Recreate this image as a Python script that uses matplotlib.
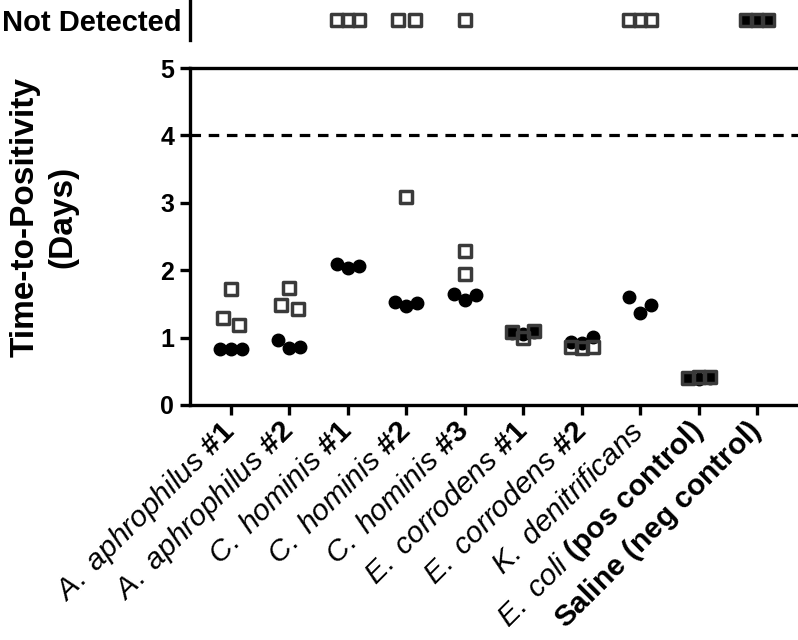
import numpy as np
import matplotlib.pyplot as plt
from matplotlib.markers import MarkerStyle

plt.rcParams['font.family'] = 'Liberation Sans'
plt.rcParams['mathtext.fontset'] = 'custom'
plt.rcParams['mathtext.rm'] = 'Liberation Sans'
plt.rcParams['mathtext.it'] = 'Liberation Sans:italic'
plt.rcParams['mathtext.bf'] = 'Liberation Sans:bold'

ND = np.nan  # not detected

categories = [
    r'$\mathit{A.\ aphrophilus}\ \mathbf{\#1}$',
    r'$\mathit{A.\ aphrophilus}\ \mathbf{\#2}$',
    r'$\mathit{C.\ hominis}\ \mathbf{\#1}$',
    r'$\mathit{C.\ hominis}\ \mathbf{\#2}$',
    r'$\mathit{C.\ hominis}\ \mathbf{\#3}$',
    r'$\mathit{E.\ corrodens}\ \mathbf{\#1}$',
    r'$\mathit{E.\ corrodens}\ \mathbf{\#2}$',
    r'$\mathit{K.\ denitrificans}$',
    r'$\mathit{E.\ coli}\ \mathbf{(pos\ control)}$',
    r'$\mathbf{Saline\ (neg\ control)}$',
]

# filled circles
circle_days = [
    [0.83, 0.83, 0.83],
    [0.96, 0.85, 0.86],
    [2.09, 2.04, 2.06],
    [1.53, 1.47, 1.52],
    [1.64, 1.56, 1.63],
    [1.07, 1.05, 1.09],
    [0.94, 0.92, 1.01],
    [1.60, 1.36, 1.48],
    [0.40, 0.39, 0.40],
    [ND, ND, ND],
]

# open squares
square_days = [
    [1.29, 1.72, 1.18],
    [1.49, 1.73, 1.42],
    [ND, ND, ND],
    [ND, 3.09, ND],
    [2.29, 1.95, ND],
    [1.08, 0.99, 1.10],
    [0.86, 0.85, 0.86],
    [ND, ND, ND],
    [0.40, 0.41, 0.42],
    [ND, ND, ND],
]

yticks = [0, 1, 2, 3, 4, 5]
threshold = 4


def spread(vals, step=0.19, close=0.2):
    # simple scatter layout: points close in value are spread sideways
    vals = np.asarray(vals, float)
    n = len(vals)
    grp = list(range(n))

    def find(i):
        while grp[i] != i:
            i = grp[i]
        return i

    for i in range(n):
        for j in range(i + 1, n):
            a, b = vals[i], vals[j]
            if (np.isnan(a) and np.isnan(b)) or abs(a - b) < close:
                grp[find(j)] = find(i)
    off = np.zeros(n)
    for root in set(find(i) for i in range(n)):
        members = [i for i in range(n) if find(i) == root]
        k = len(members)
        s = step * 1.5 if k == 2 else step
        for idx, m in enumerate(members):
            off[m] = (idx - (k - 1) / 2) * s
    return off


fig = plt.figure(figsize=(7.98, 6.4), dpi=100)
ax = fig.add_axes([190 / 798, 1 - 405 / 640, 608 / 798, 337 / 640])
top = fig.add_axes([190 / 798, 1 - 40 / 640, 608 / 798, 40 / 640], sharex=ax)

circ = dict(marker='o', ms=9, color='black', ls='none', zorder=3)
sq = dict(marker=MarkerStyle('s', joinstyle='round'), ms=8.8, mfc='none',
          mec='#3a3a3a', mew=2.5, ls='none', zorder=4)

for i in range(len(categories)):
    for vals, style in ((circle_days[i], circ), (square_days[i], sq)):
        vals = np.asarray(vals, float)
        x = i + spread(vals)
        det = ~np.isnan(vals)
        ax.plot(x[det], vals[det], clip_on=False, **style)
        top.plot(x[~det], np.full((~det).sum(), 0.5), clip_on=False, **style)

ax.axhline(threshold, color='black', lw=2.3, dashes=(3.3, 2.4))

ax.set_xlim(-0.7, len(categories) - 0.3)
ax.set_ylim(0, 5)
ax.set_yticks(yticks)
ax.set_yticklabels([str(t) for t in yticks], fontsize=18, fontweight='bold')
ax.set_xticks(range(len(categories)))
ax.set_xticklabels(categories, fontsize=21.5, rotation=45, ha='right',
                   va='center', rotation_mode='anchor')
ax.tick_params(axis='both', length=7.5, width=2.4, pad=4)
ax.tick_params(axis='x', pad=8)
ax.spines['right'].set_visible(False)
for s in ('left', 'bottom', 'top'):
    ax.spines[s].set_linewidth(2.4)

fig.text(44 / 798, 1 - 217 / 640, 'Time-to-Positivity\n(Days)', rotation=90,
         ha='center', va='center', multialignment='center',
         fontsize=24, fontweight='bold', linespacing=1.25)

top.set_ylim(0, 1)
top.set_yticks([0.5])
top.set_yticklabels(['Not Detected'], fontsize=21, fontweight='bold')
top.tick_params(axis='y', length=0, pad=6)
top.tick_params(axis='x', bottom=False, labelbottom=False)
for s in ('right', 'top', 'bottom'):
    top.spines[s].set_visible(False)
top.spines['left'].set_linewidth(2.4)
top.patch.set_alpha(0)

fig.savefig('out.png', dpi=100)
